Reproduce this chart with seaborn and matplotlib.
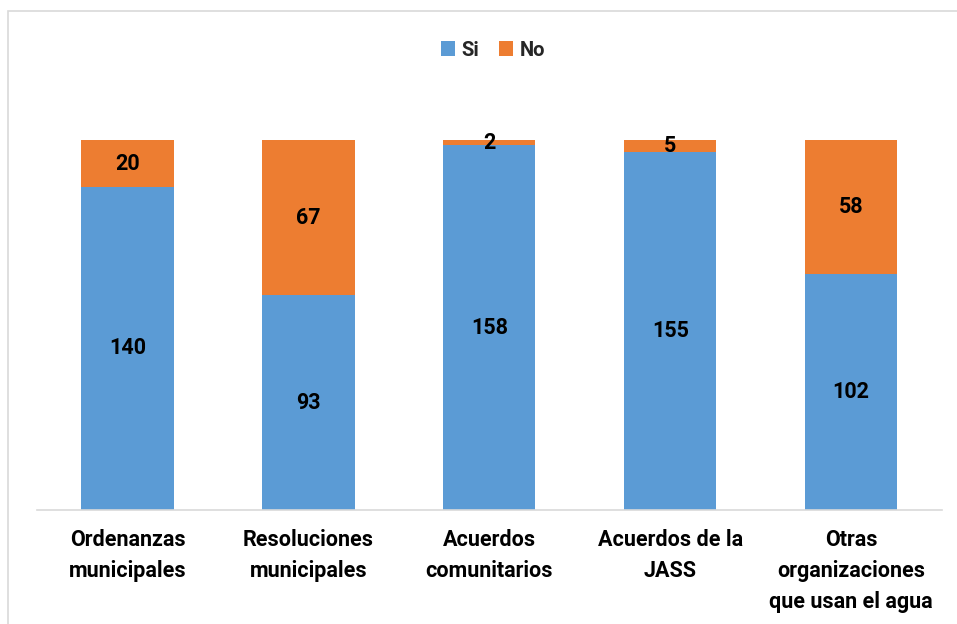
import matplotlib
matplotlib.use("Agg")
import matplotlib.pyplot as plt
import seaborn as sns
import pandas as pd
from matplotlib.patches import Rectangle

categories = ["Ordenanzas\nmunicipales", "Resoluciones\nmunicipales", "Acuerdos\ncomunitarios",
              "Acuerdos de la\nJASS", "Otras\norganizaciones\nque usan el agua"]
si_values = [140, 93, 158, 155, 102]
no_values = [20, 67, 2, 5, 58]

sns.set_theme(style="white")
plt.rcParams['font.family'] = ['Roboto', 'DejaVu Sans']

BLUE = "#5B9BD5"
ORANGE = "#ED7D31"

fig = plt.figure(figsize=(9.57, 6.24), dpi=100)
ax = fig.add_axes([0.0387, 0.1827, 0.9453, 0.6663])

df = pd.DataFrame({"cat": categories, "Si": si_values, "No": no_values})
df["total"] = df["Si"] + df["No"]

sns.barplot(data=df, x="cat", y="total", color=ORANGE, width=0.51, ax=ax, label="No",
            saturation=1, linewidth=0)
sns.barplot(data=df, x="cat", y="Si", color=BLUE, width=0.51, ax=ax, label="Si",
            saturation=1, linewidth=0)

ax.set_ylim(0, 180)
ax.set_xlim(-0.5, 4.5)
for i, (s, n) in enumerate(zip(si_values, no_values)):
    ax.text(i, s / 2, str(s), ha="center", va="center", fontsize=15.5, fontweight="bold", color="black")
    ax.text(i, s + n / 2, str(n), ha="center", va="center", fontsize=15.5, fontweight="bold", color="black")

ax.set_xlabel("")
ax.set_ylabel("")
ax.set_yticks([])
ax.tick_params(axis="x", length=0, pad=14)
for lbl in ax.get_xticklabels():
    lbl.set_fontsize(15.5)
    lbl.set_fontweight("bold")
    lbl.set_color("black")
    lbl.set_linespacing(1.52)
for sp in ["top", "right", "left"]:
    ax.spines[sp].set_visible(False)
ax.spines["bottom"].set_color("#D9D9D9")
ax.spines["bottom"].set_linewidth(1.2)

handles, labels = ax.get_legend_handles_labels()
order = [labels.index("Si"), labels.index("No")]
leg = fig.legend([handles[k] for k in order], [labels[k] for k in order], loc="center",
                 bbox_to_anchor=(493 / 957, 1 - 50 / 624), ncol=2, frameon=False,
                 prop={"size": 14.5, "weight": "bold"}, handlelength=0.7, handleheight=0.7,
                 handletextpad=0.3, columnspacing=1.0)
if ax.get_legend():
    ax.get_legend().remove()

fig.patches.append(Rectangle((8 / 957, -0.01), 1.0, 1 - 11 / 624 + 0.01, transform=fig.transFigure,
                             fill=False, edgecolor="#D9D9D9", linewidth=1.2))

fig.savefig("out.png", dpi=100)
